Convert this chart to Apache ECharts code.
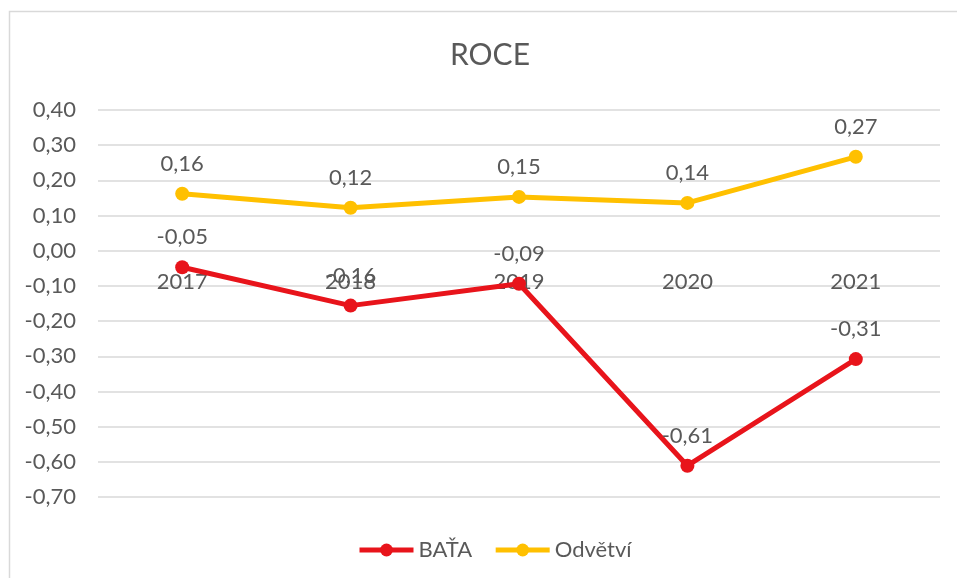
<!DOCTYPE html>
<html>
<head>
<meta charset="utf-8">
<script src="https://cdn.jsdelivr.net/npm/echarts@6/dist/echarts.min.js"></script>
<style>
  html, body { margin: 0; padding: 0; background: #fff; }
  #main { width: 957px; height: 578px; }
</style>
</head>
<body>
<div id="main"></div>
<script>
// data
const years = ['2017', '2018', '2019', '2020', '2021'];
const bata = [-0.047, -0.156, -0.094, -0.611, -0.308];
const odvetvi = [0.162, 0.122, 0.153, 0.136, 0.267];

const fmt = v => {
  if (Math.abs(v) < 1e-9) v = 0;
  return v.toFixed(2).replace('.', ',');
};

const txt = '#595959';
const font = 'Lato';

function lineSeries(name, data, color) {
  return {
    name: name,
    type: 'line',
    data: data,
    symbol: 'circle',
    symbolSize: 14,
    lineStyle: { width: 5, color: color },
    itemStyle: { color: color },
    label: {
      show: true,
      position: 'top',
      distance: 12,
      color: txt,
      fontFamily: font,
      fontSize: 22,
      formatter: p => fmt(p.value)
    },
    z: 3
  };
}

let myChart = echarts.init(document.getElementById('main'));
myChart.setOption({
  animation: false,
  backgroundColor: '#fff',
  textStyle: { fontFamily: font },
  title: {
    text: 'ROCE',
    left: 445,
    top: 35,
    textStyle: { color: txt, fontFamily: font, fontSize: 30, fontWeight: 'normal' }
  },
  graphic: [{
    type: 'rect',
    shape: { x: 9.5, y: 11.5, width: 1000, height: 1000 },
    style: { fill: 'none', stroke: '#d9d9d9', lineWidth: 1.5 },
    silent: true
  }],
  grid: { left: 98, right: 17, top: 110, bottom: 81, containLabel: false },
  legend: {
    bottom: 12,
    left: 352,
    itemWidth: 54,
    itemHeight: 16,
    itemGap: 21,
    lineStyle: { width: 5 },
    textStyle: { color: txt, fontFamily: font, fontSize: 22 },
    data: ['BAŤA', 'Odvětví']
  },
  xAxis: {
    type: 'category',
    data: years,
    boundaryGap: true,
    position: 'bottom',
    offset: -247,   // sits on the 0,00 line like the original
    axisLine: { show: false },
    axisTick: { show: false },
    axisLabel: { color: txt, fontFamily: font, fontSize: 22, margin: 21 },
    z: 1
  },
  yAxis: {
    type: 'value',
    min: -0.7,
    max: 0.4,
    interval: 0.1,
    axisLine: { show: false },
    axisTick: { show: false },
    splitLine: { lineStyle: { color: '#d9d9d9', width: 1.5 } },
    axisLabel: { color: txt, fontFamily: font, fontSize: 22, margin: 22, formatter: fmt }
  },
  series: [
    lineSeries('BAŤA', bata, '#e8141b'),
    lineSeries('Odvětví', odvetvi, '#ffc000')
  ]
});
</script>
</body>
</html>
